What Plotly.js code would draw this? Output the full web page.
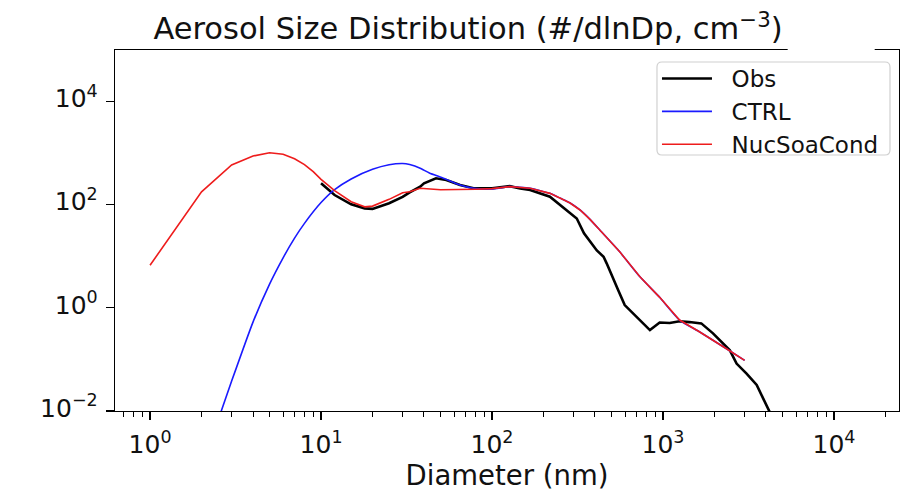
<!DOCTYPE html>
<html>
<head>
<meta charset="utf-8">
<script src="https://cdn.plot.ly/plotly-3.0.1.min.js"></script>
<style>
html,body{margin:0;padding:0;background:#fff;}
#chart{width:906px;height:495px;}
</style>
</head>
<body>
<div id="chart"></div>
<script>
// Observations
var diamObs = [10, 12, 15, 18, 20, 25, 30, 33, 38, 40, 47, 54, 65, 78, 100, 127, 146, 167, 218, 251, 286, 313, 345, 410, 449, 468, 547, 597, 838, 956, 1094, 1249, 1427, 1674, 1960, 2460, 2692, 3080, 3530, 4038, 4400];
var obs = [260, 154, 102, 85, 83, 107, 142, 174, 224, 260, 326, 302, 241, 208, 208, 229, 207, 193, 143, 99, 70, 54, 28, 13, 9.8, 7.3, 2.2, 1.13, 0.37, 0.52, 0.51, 0.55, 0.53, 0.50, 0.32, 0.15, 0.083, 0.053, 0.032, 0.013, 0.007];

// CTRL model
var diamCtrl = [2.4, 3, 4, 5, 6, 7, 8, 10, 12, 15, 20, 25, 30, 33, 38, 43, 52, 65, 78, 100, 127, 167, 218, 251, 286, 327, 374, 428, 558, 733, 956, 1249, 1640, 2338, 3000];
var ctrl = [0.0045, 0.038, 0.53, 2.89, 9.35, 22.5, 43.5, 110, 196, 316, 486, 595, 630, 600, 510, 412, 326, 241, 208, 202, 224, 208, 166, 133, 108, 79, 52, 32, 12.2, 4.0, 1.6, 0.58, 0.34, 0.163, 0.096];

// NucSoaCond model
var diamNuc = [1, 2, 3, 4, 5, 6, 7, 8, 9, 10, 12, 15, 18, 20, 25, 30, 33, 38, 50, 65, 80, 100, 127, 167, 218, 251, 286, 327, 374, 428, 558, 733, 956, 1249, 1640, 2338, 3000];
var nuc = [6.7, 178, 590, 880, 1020, 950, 780, 600, 437, 310, 187, 114, 91, 94, 127, 170, 178, 208, 195, 195, 200, 205, 224, 208, 166, 133, 108, 79, 52, 32, 12.2, 4.0, 1.6, 0.58, 0.34, 0.163, 0.096];

var seriesNames = ["Obs", "CTRL", "NucSoaCond"];
var xTickVals = [1, 10, 100, 1000, 10000];
var xTickText = ["10<sup>0</sup>", "10<sup>1</sup>", "10<sup>2</sup>", "10<sup>3</sup>", "10<sup>4</sup>"];
var yTickVals = [0.01, 1, 100, 10000];
var yTickText = ["10<sup>\u22122</sup>", "10<sup>0</sup>", "10<sup>2</sup>", "10<sup>4</sup>"];

var minorX = [];
for (var e = -1; e <= 4; e++) {
  for (var m = 2; m <= 9; m++) minorX.push(m * Math.pow(10, e));
}

var pad = "\u00a0\u00a0";
var traces = [
  {x: diamObs, y: obs, name: pad + seriesNames[0], mode: "lines", legendgroup: "a",
   line: {color: "#000000", width: 2.6}},
  {x: diamCtrl, y: ctrl, name: pad + seriesNames[1], mode: "lines", legendgroup: "b",
   line: {color: "#1a1aff", width: 1.6, shape: "spline", smoothing: 0.5}},
  {x: diamNuc, y: nuc, name: pad + seriesNames[2], mode: "lines", legendgroup: "c",
   line: {color: "#ee1c1c", width: 1.6}}
];

// legend frame (rounded box) in paper coordinates
var bx0 = 0.6913, bx1 = 0.9885, byT = 0.9668, byB = 0.7091, rx = 0.0064, ry = 0.0139;
var framePath = "M" + (bx0 + rx) + "," + byT + " L" + (bx1 - rx) + "," + byT +
  " Q" + bx1 + "," + byT + " " + bx1 + "," + (byT - ry) +
  " L" + bx1 + "," + (byB + ry) + " Q" + bx1 + "," + byB + " " + (bx1 - rx) + "," + byB +
  " L" + (bx0 + rx) + "," + byB + " Q" + bx0 + "," + byB + " " + bx0 + "," + (byB + ry) +
  " L" + bx0 + "," + (byT - ry) + " Q" + bx0 + "," + byT + " " + (bx0 + rx) + "," + byT + " Z";

var fontFam = "DejaVu Sans, sans-serif";
var layout = {
  width: 906, height: 495,
  margin: {l: 115, r: 7, t: 50, b: 84},
  paper_bgcolor: "#ffffff", plot_bgcolor: "#ffffff",
  font: {family: fontFam, color: "#000000"},
  title: {text: "Aerosol Size Distribution (#/dlnDp, cm<sup>\u22123</sup>)",
          font: {family: fontFam, size: 30.5, color: "#111"},
          xref: "container", x: 0.5166, xanchor: "center",
          yref: "container", y: 0.942, yanchor: "middle"},
  xaxis: {type: "log", range: [-0.205, 4.38],
          tickmode: "array", tickvals: xTickVals, ticktext: xTickText,
          ticks: "outside", ticklen: 8, tickwidth: 1.2, tickcolor: "#000",
          ticklabelstandoff: 3,
          showline: true, linecolor: "#000", linewidth: 1.3, mirror: true,
          showgrid: false, zeroline: false,
          tickfont: {family: fontFam, size: 25, color: "#111"},
          minor: {tickmode: "array", tickvals: minorX, ticks: "outside", ticklen: 4.5, tickwidth: 1, tickcolor: "#000", showgrid: false},
          title: {text: "Diameter (nm)", font: {family: fontFam, size: 27.5, color: "#111"}, standoff: 6}},
  yaxis: {type: "log", range: [-2, 5],
          tickmode: "array", tickvals: yTickVals, ticktext: yTickText,
          ticks: "outside", ticklen: 8, tickwidth: 1.2, tickcolor: "#000",
          ticklabelstandoff: 3, ticklabelshift: -3,
          showline: true, linecolor: "#000", linewidth: 1.3, mirror: true,
          showgrid: false, zeroline: false,
          tickfont: {family: fontFam, size: 25, color: "#111"}},
  showlegend: true,
  legend: {x: 0.6913, xanchor: "left", y: 0.9806, yanchor: "top",
           bgcolor: "rgba(0,0,0,0)", borderwidth: 0,
           font: {family: fontFam, size: 23, color: "#111"},
           tracegroupgap: 0, itemwidth: 50},
  shapes: [
    {type: "rect", xref: "paper", yref: "paper", x0: 0.858, x1: 0.969, y0: 0.985, y1: 1.02,
     fillcolor: "#ffffff", line: {width: 0}, layer: "above"},
    {type: "path", xref: "paper", yref: "paper", path: framePath,
     fillcolor: "rgba(255,255,255,0.85)", line: {color: "#d0d0d0", width: 1.2}, layer: "above"}
  ]
};

Plotly.newPlot("chart", traces, layout, {displayModeBar: false, staticPlot: true});
</script>
</body>
</html>
